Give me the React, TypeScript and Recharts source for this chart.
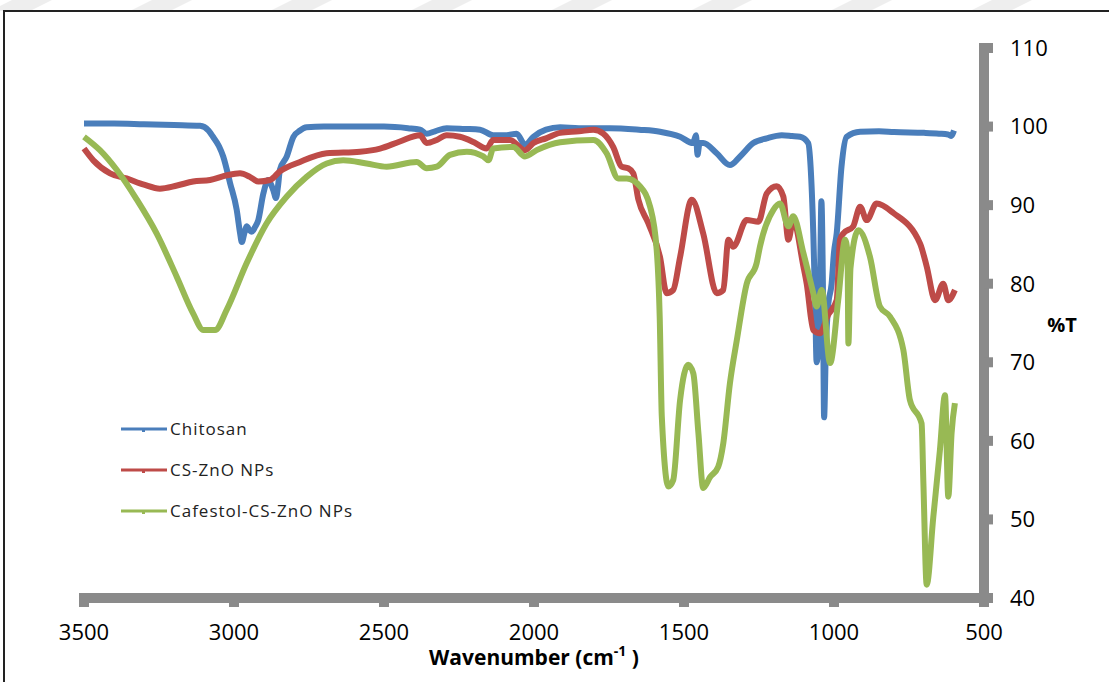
import React from "react";
import { Label, Legend, Line, LineChart, XAxis, YAxis } from "recharts";

// Chitosan
const chitosanWn = [
  3500, 3400, 3300, 3200, 3113, 3085, 3070, 3050, 3036, 3013, 2991, 2980, 2974, 2965, 2958,
  2948, 2941, 2930, 2919, 2902, 2886, 2875, 2869, 2860, 2853, 2847, 2824, 2802, 2780, 2758,
  2700, 2600, 2500, 2420, 2380, 2358, 2330, 2291, 2230, 2180, 2136, 2091, 2058, 2030, 2002,
  1960, 1913, 1850, 1747, 1650, 1580, 1513, 1470, 1460, 1455, 1448, 1436, 1391, 1347, 1313,
  1269, 1224, 1174, 1140, 1113, 1086, 1078, 1069, 1062, 1058, 1052, 1046, 1042, 1037, 1033,
  1027, 1020, 1008, 1000, 991, 975, 958, 913, 850, 800, 700, 650, 620, 610, 600,
];
const chitosanT = [
  100.4, 100.4, 100.3, 100.2, 100.1, 99.5, 98.7, 97.5, 96.2, 92.8, 89.4, 86.5, 85.3, 86.5, 87.3,
  86.8, 86.6, 87.2, 88.1, 91.5, 93.2, 92.5, 91.9, 90.9, 92.5, 94.5, 96.2, 98.7, 99.5, 99.9,
  100.0, 100.0, 100.0, 99.8, 99.6, 99.1, 99.4, 99.8, 99.7, 99.6, 98.9, 98.9, 99.1, 97.7, 98.7,
  99.6, 99.9, 99.8, 99.8, 99.6, 99.35, 98.7, 97.9, 98.9, 96.4, 97.9, 97.9, 96.6, 95.1, 96.2,
  97.9, 98.5, 98.9, 98.8, 98.7, 97.9, 94.9, 86.4, 76.0, 70.0, 72.0, 82.0, 90.5, 80.0, 63.0,
  72.0, 77.0, 80.0, 84.0, 86.4, 94.9, 98.7, 99.35, 99.4, 99.3, 99.2, 99.1, 99.0, 98.8, 99.5,
];

// CS-ZnO NPs
const csZnoWn = [
  3500, 3469, 3413, 3358, 3300, 3247, 3190, 3136, 3080, 3024, 2980, 2947, 2919, 2880, 2847,
  2780, 2691, 2580, 2513, 2447, 2380, 2358, 2324, 2291, 2247, 2200, 2158, 2136, 2080, 2030,
  2002, 1960, 1913, 1850, 1802, 1769, 1736, 1708, 1686, 1669, 1652, 1619, 1580, 1558, 1536,
  1513, 1474, 1436, 1391, 1369, 1352, 1336, 1291, 1252, 1224, 1191, 1169, 1152, 1136, 1102,
  1091, 1069, 1047, 1020, 991, 980, 969, 936, 913, 891, 858, 802, 713, 691, 663, 636, 619, 597,
];
const csZnoT = [
  97.2, 95.7, 94.05, 93.4, 92.6, 92.1, 92.5, 93.0, 93.2, 93.8, 94.05, 93.6, 93.0, 93.2, 94.3,
  95.5, 96.6, 96.8, 97.2, 98.1, 98.9, 97.9, 98.3, 98.9, 98.7, 98.0, 97.2, 98.3, 98.3, 97.0,
  97.9, 98.5, 99.2, 99.4, 99.6, 99.1, 97.4, 94.9, 94.7, 94.05, 90.7, 87.7, 83.4, 78.8, 79.2,
  83.4, 90.7, 86.4, 78.8, 79.2, 85.6, 84.7, 88.1, 87.9, 91.5, 92.4, 91.1, 85.6, 88.1, 82.2,
  80.0, 74.1, 73.7, 76.0, 77.9, 85.6, 86.4, 87.3, 89.8, 88.1, 90.2, 89.0, 85.1, 82.2, 77.9, 80.0, 77.9, 79.2,
];

// Cafestol-CS-ZnO NPs
const cafestolWn = [
  3500, 3447, 3391, 3324, 3258, 3191, 3136, 3102, 3063, 3024, 2958, 2891, 2824, 2758, 2691,
  2636, 2558, 2491, 2391, 2358, 2324, 2280, 2224, 2169, 2152, 2136, 2069, 2030, 1991, 1913,
  1802, 1758, 1719, 1691, 1647, 1613, 1591, 1581, 1574, 1552, 1536, 1513, 1486, 1469, 1452,
  1436, 1413, 1386, 1369, 1347, 1324, 1291, 1258, 1247, 1202, 1180, 1152, 1136, 1102, 1069,
  1058, 1041, 1013, 986, 963, 955, 952, 945, 919, 880, 847, 813, 769, 747, 708, 702, 691,
  669, 647, 630, 619, 608, 597,
];
const cafestolT = [
  98.7, 97.0, 94.5, 90.7, 86.4, 80.9, 76.2, 74.1, 74.1, 76.7, 82.6, 87.7, 91.1, 93.6, 95.3,
  95.7, 95.3, 94.9, 95.5, 94.7, 94.9, 96.4, 96.8, 96.2, 95.7, 97.2, 97.4, 96.2, 97.0, 98.0,
  98.3, 96.6, 93.4, 93.4, 92.4, 89.8, 84.3, 75.8, 63.1, 54.2, 55.0, 65.2, 69.7, 68.6, 61.0,
  54.0, 55.4, 56.7, 59.7, 67.3, 72.8, 80.0, 82.6, 84.7, 89.4, 90.2, 87.3, 88.6, 83.9, 78.8,
  77.1, 79.2, 69.9, 77.9, 85.6, 84.0, 72.4, 82.0, 86.8, 83.4, 77.1, 75.8, 71.6, 65.2, 62.2, 54.6, 41.7,
  50.3, 58.8, 65.8, 52.9, 61.0, 64.8,
];

const xTicks = [3500, 3000, 2500, 2000, 1500, 1000, 500];
const yTicks = [40, 50, 60, 70, 80, 90, 100, 110];

const series = [
  { name: "Chitosan", color: "#4a7ebb", data: chitosanWn.map((wn, i) => ({ wn, t: chitosanT[i] })) },
  { name: "CS-ZnO NPs", color: "#be4b48", data: csZnoWn.map((wn, i) => ({ wn, t: csZnoT[i] })) },
  { name: "Cafestol-CS-ZnO NPs", color: "#98b954", data: cafestolWn.map((wn, i) => ({ wn, t: cafestolT[i] })) },
];

const FONT = "'Open Sans', 'Liberation Sans', sans-serif";
const AXIS = "#8a8a8a";

function LegendBox() {
  return (
    <div style={{ fontFamily: FONT, fontSize: 17, letterSpacing: 1, color: "#222" }}>
      {series.map((s) => (
        <div key={s.name} style={{ display: "flex", alignItems: "center", height: 41 }}>
          <svg width={50} height={10}>
            <line x1={1} y1={5} x2={47} y2={5} stroke={s.color} strokeWidth={3} />
            <rect x={22} y={4} width={3} height={4} fill={s.color} />
          </svg>
          <span>{s.name}</span>
        </div>
      ))}
    </div>
  );
}

function XTitle(props: any) {
  const vb = props.viewBox;
  return (
    <text x={vb.x + vb.width / 2} y={665} textAnchor="middle" fontFamily={FONT} fontWeight="bold" fontSize={21} fill="#000">
      <tspan>Wavenumber (cm</tspan>
      <tspan fontSize={14} dy={-9}>-1</tspan>
      <tspan dy={9}> )</tspan>
    </text>
  );
}

function YTitle(props: any) {
  const vb = props.viewBox;
  return (
    <text x={vb.x + 78} y={332} textAnchor="middle" fontFamily={FONT} fontWeight="bold" fontSize={20} fill="#000">
      %T
    </text>
  );
}

const stripes = [0, 140, 280, 420, 560, 700, 840, 980];

export default function App() {
  return (
    <div style={{ position: "fixed", left: 0, top: 0, width: 1109, height: 682, overflow: "hidden", background: "#fff" }}>
      <svg width={1109} height={12} style={{ position: "absolute", left: 0, top: 0 }}>
        {stripes.map((x) => (
          <polygon key={x} points={`${x - 10},11 ${x + 30},11 ${x + 52},0 ${x + 12},0`} fill="#eeeeee" />
        ))}
      </svg>
      <div style={{ position: "absolute", left: 3, top: 10, width: 1200, height: 800, border: "2px solid #222", boxSizing: "border-box" }} />
      <div style={{ position: "absolute", left: 0, top: 0 }}>
        <LineChart width={1109} height={682} margin={{ top: 48, right: 0, bottom: 44, left: 84 }}>
          <XAxis
            type="number"
            dataKey="wn"
            domain={[500, 3500]}
            reversed
            ticks={xTicks}
            interval={0}
            height={40}
            axisLine={{ stroke: AXIS, strokeWidth: 10, strokeLinecap: "square" }}
            tickLine={{ stroke: AXIS, strokeWidth: 10 }}
            tickSize={9}
            tickMargin={17}
            tick={{ fill: "#000", fontSize: 22, fontFamily: FONT }}
          >
            <Label content={XTitle} />
          </XAxis>
          <YAxis
            orientation="right"
            type="number"
            domain={[40, 110]}
            ticks={yTicks}
            interval={0}
            width={125}
            axisLine={{ stroke: AXIS, strokeWidth: 10, strokeLinecap: "square" }}
            tickLine={{ stroke: AXIS, strokeWidth: 10 }}
            tickSize={9}
            tickMargin={17}
            tick={{ fill: "#000", fontSize: 22, fontFamily: FONT, textAnchor: "start" }}
          >
            <Label content={YTitle} />
          </YAxis>
          <Legend
            layout="horizontal"
            align="center"
            verticalAlign="middle"
            content={() => <LegendBox />}
            wrapperStyle={{ left: 120, top: 408, width: 340 }}
          />
          {series.map((s) => (
            <Line
              key={s.name}
              data={s.data}
              dataKey="t"
              name={s.name}
              type="monotone"
              stroke={s.color}
              strokeWidth={6}
              dot={false}
              isAnimationActive={false}
            />
          ))}
        </LineChart>
      </div>
    </div>
  );
}
